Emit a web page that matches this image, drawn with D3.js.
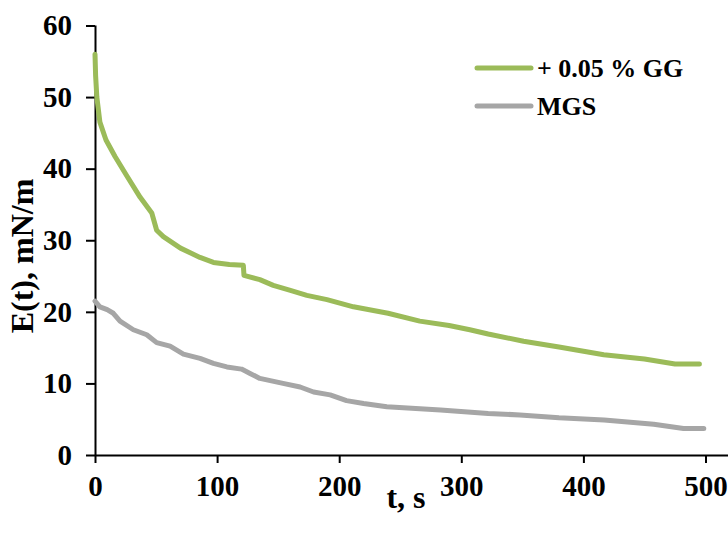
<!DOCTYPE html>
<html><head><meta charset="utf-8">
<script src="https://cdn.jsdelivr.net/npm/d3@7"></script>
<style>body{margin:0;background:#fff}svg text{font-family:"Liberation Serif","Times New Roman",serif;font-weight:bold;fill:#000}</style>
</head><body><svg id="c" width="728" height="540"></svg>
<script>
const seriesNames = ["+ 0.05 % GG", "MGS"];
const seriesColors = ["#9BBB59", "#A6A6A6"];
const ggTime = [0,0.5,1.5,4,9,16.4,26,37,46.5,50.5,56,70,86,97,110,121.5,122,135,146,160,173.5,190,211.7,240,266,290,307,322,351,380,416.7,450,475,495];
const ggE    = [56,53,50,46.5,44,41.7,39,36,33.8,31.4,30.5,28.9,27.6,26.9,26.6,26.5,25.1,24.5,23.7,23.0,22.3,21.7,20.7,19.8,18.7,18.1,17.5,16.9,15.9,15.1,14.0,13.4,12.7,12.7];
const mgsTime = [0,4,10,15,20.5,31.4,42.4,50.5,61.5,72.4,86,97,108,120,127,135,154,168,179,192.6,206,220,239,283,322,348,380,417,457.6,482,498.6];
const mgsE    = [21.5,20.7,20.3,19.8,18.7,17.5,16.8,15.7,15.2,14.1,13.5,12.8,12.3,12.0,11.4,10.7,10.0,9.5,8.8,8.4,7.6,7.2,6.75,6.3,5.8,5.6,5.2,4.9,4.3,3.7,3.7];
const xTicks = [0,100,200,300,400,500];
const yTicks = [0,10,20,30,40,50,60];
const xTitle = "t, s", yTitle = "E(t), mN/m";

const svg = d3.select("#c");
const x = d3.scaleLinear().domain([0,500]).range([95,705.5]);
const y = d3.scaleLinear().domain([0,60]).range([455,25.5]);

const xAxis = svg.append("g").attr("transform","translate(0,455)")
  .call(d3.axisBottom(x).tickValues(xTicks).tickSize(8).tickPadding(12).tickFormat(d3.format("d")));
xAxis.select(".domain").attr("d","M95,0.5H728");
const yAxis = svg.append("g").attr("transform","translate(95,0)")
  .call(d3.axisLeft(y).tickValues(yTicks).tickSize(9).tickPadding(14).tickFormat(d3.format("d")));
yAxis.select(".domain").attr("d","M0.5,"+y(60)+"V455");
svg.selectAll(".tick line").attr("stroke","#000").attr("stroke-width",2);
svg.selectAll(".domain").attr("stroke","#000").attr("stroke-width",2);
svg.selectAll(".tick text").style("font-size","29px").style("font-family","Liberation Serif").style("font-weight","bold");

const line = d3.line().x(d=>x(d[0])).y(d=>y(d[1]));
const data = [d3.zip(ggTime, ggE), d3.zip(mgsTime, mgsE)];
svg.selectAll("path.s").data(data).enter().append("path").attr("class","s")
  .attr("d",line).attr("fill","none").attr("stroke",(d,i)=>seriesColors[i])
  .attr("stroke-width",5).attr("stroke-linejoin","round").attr("stroke-linecap","round");

svg.append("text").attr("x",406).attr("y",508).attr("text-anchor","middle").style("font-size","32px").text(xTitle);
svg.append("text").attr("transform","translate(33,256) rotate(-90)").attr("text-anchor","middle").style("font-size","32px").text(yTitle);

const lg = svg.append("g");
seriesNames.forEach((n,i)=>{
  const yy = 68 + i*38;
  lg.append("line").attr("x1",477).attr("x2",531).attr("y1",yy).attr("y2",yy)
    .attr("stroke",seriesColors[i]).attr("stroke-width",5).attr("stroke-linecap","round");
  lg.append("text").attr("x",537).attr("y",yy+9).style("font-size","26px").text(n);
});
</script></body></html>
